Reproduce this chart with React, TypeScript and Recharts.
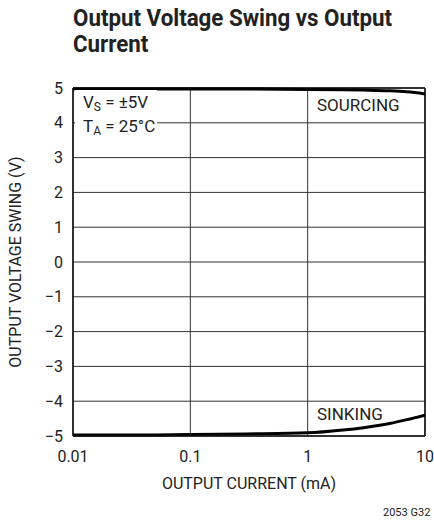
import { LineChart, Line, XAxis, YAxis, CartesianGrid, ReferenceLine, Label } from 'recharts';

const FONT = "Roboto, 'Liberation Sans', sans-serif";

// output current (mA)
const currentMa = [0.01, 0.03, 0.1, 0.3, 1, 2, 3, 5, 7, 10];
const sourcingV = [4.97, 4.97, 4.97, 4.97, 4.96, 4.95, 4.94, 4.92, 4.89, 4.83];
const sinkingV = [-4.97, -4.97, -4.96, -4.94, -4.91, -4.83, -4.76, -4.64, -4.53, -4.4];

const xTicks = [0.01, 0.1, 1, 10];
const yTicks = [-5, -4, -3, -2, -1, 0, 1, 2, 3, 4, 5];

const data = currentMa.map((c, i) => ({ current: c, sourcing: sourcingV[i], sinking: sinkingV[i] }));

const fmtY = (v: number) => (v < 0 ? '\u2212' + Math.abs(v) : String(v));

const titleStyle = {
  position: 'absolute' as const,
  left: 73,
  fontSize: 23,
  fontWeight: 'bold' as const,
  lineHeight: '23px',
  color: '#222',
  whiteSpace: 'nowrap' as const,
  transform: 'scaleX(0.97)',
  transformOrigin: 'left top',
};

export default function App() {
  return (
    <div style={{ position: 'absolute', left: 0, top: 0, width: 434, height: 523, background: '#fff', fontFamily: FONT }}>
      <div style={{ ...titleStyle, top: 7 }}>Output Voltage Swing vs Output</div>
      <div style={{ ...titleStyle, top: 33 }}>Current</div>
      <LineChart width={434} height={523} data={data} margin={{ top: 88, right: 9, bottom: 27, left: 23 }}>
        <CartesianGrid stroke="#333" strokeWidth={1} horizontalValues={yTicks} verticalValues={xTicks} />
        <XAxis
          dataKey="current"
          type="number"
          scale="log"
          domain={[0.01, 10]}
          ticks={xTicks}
          allowDataOverflow
          height={60}
          tickLine={false}
          axisLine={{ stroke: '#111', strokeWidth: 1.5 }}
          tickMargin={9}
          tick={{ fill: '#222', fontSize: 16, fontFamily: FONT }}
        >
          <Label value="OUTPUT CURRENT (mA)" position="insideBottom" offset={7} fill="#222" fontSize={16} fontFamily={FONT} />
        </XAxis>
        <YAxis
          type="number"
          domain={[-5, 5]}
          ticks={yTicks}
          width={50}
          tickLine={false}
          axisLine={{ stroke: '#111', strokeWidth: 1.5 }}
          tickMargin={4}
          tickFormatter={fmtY}
          tick={{ fill: '#222', fontSize: 16, fontFamily: FONT }}
        >
          <Label value="OUTPUT VOLTAGE SWING (V)" angle={-90} position="insideLeft" offset={-8} style={{ textAnchor: 'middle' }} fill="#222" fontSize={16} fontFamily={FONT} />
        </YAxis>
        <ReferenceLine y={5} stroke="#111" strokeWidth={1.5} />
        <ReferenceLine x={10} stroke="#111" strokeWidth={1.5} />
        <Line dataKey="sourcing" type="monotone" stroke="#000" strokeWidth={3} dot={false} isAnimationActive={false} />
        <Line dataKey="sinking" type="monotone" stroke="#000" strokeWidth={3} dot={false} isAnimationActive={false} />
      </LineChart>
      <div style={{ position: 'absolute', left: 75, top: 90, width: 82, height: 46, background: '#fff' }} />
      <div style={{ position: 'absolute', left: 83, top: 93, fontSize: 17, lineHeight: '19px', color: '#222' }}>
        V<sub style={{ fontSize: 12, verticalAlign: '-3px' }}>S</sub> = ±5V
        <br />
        T<sub style={{ fontSize: 12, verticalAlign: '-3px' }}>A</sub> = 25°C
      </div>
      <div style={{ position: 'absolute', left: 317, top: 95, fontSize: 17, color: '#222' }}>SOURCING</div>
      <div style={{ position: 'absolute', left: 317, top: 404, fontSize: 17, color: '#222' }}>SINKING</div>
      <div style={{ position: 'absolute', left: 383, top: 506, fontSize: 11, color: '#222' }}>2053 G32</div>
    </div>
  );
}
